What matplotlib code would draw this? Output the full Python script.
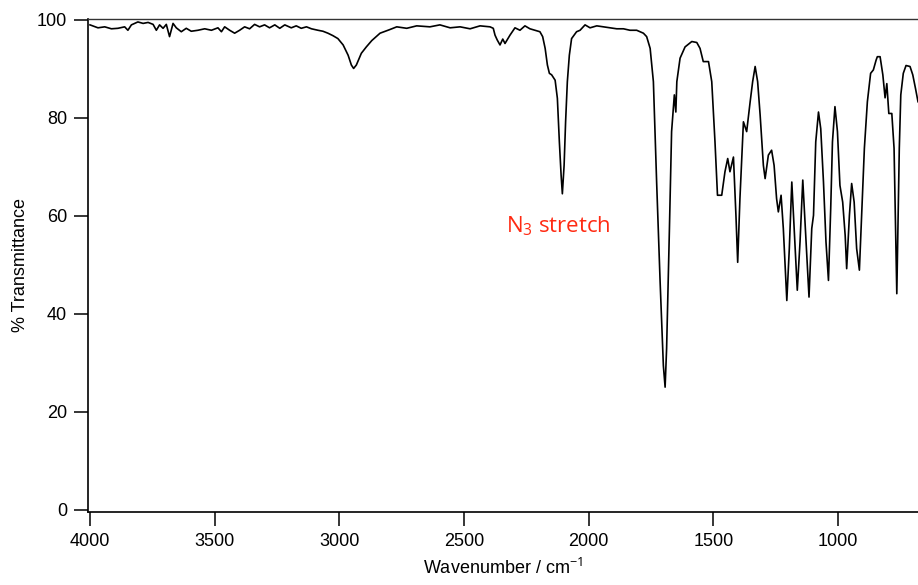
import matplotlib.pyplot as plt

# IR spectrum (wavenumber in cm-1, % transmittance)
wavenumber = [
    4000, 3968, 3941, 3914, 3888, 3861, 3848, 3834, 3808, 3787, 3767, 3747,
    3734, 3721, 3707, 3694, 3681, 3667, 3654, 3634, 3614, 3594, 3567, 3540,
    3513, 3487, 3473, 3460, 3440, 3420, 3400, 3380, 3360, 3340, 3320, 3300,
    3280, 3259, 3239, 3219, 3193, 3173, 3153, 3132, 3112, 3086, 3066, 3046,
    3026, 3006, 2985, 2965, 2952, 2943, 2932, 2912, 2892, 2870, 2837, 2800,
    2770, 2730, 2690, 2637, 2597, 2556, 2516, 2476, 2436, 2396, 2383, 2376,
    2367, 2356, 2345, 2336, 2316, 2296, 2276, 2256, 2236, 2216, 2196, 2185,
    2175, 2166, 2158, 2149, 2135, 2126, 2118, 2111, 2106, 2099, 2093, 2086,
    2078, 2069, 2059, 2049, 2035, 2015, 1995, 1968, 1942, 1915, 1888, 1861,
    1835, 1808, 1781, 1768, 1754, 1741, 1728, 1714, 1701, 1694, 1688, 1677,
    1668, 1657, 1651, 1647, 1634, 1614, 1587, 1567, 1554, 1541, 1520, 1507,
    1494, 1484, 1467, 1454, 1443, 1434, 1420, 1410, 1403, 1394, 1380, 1367,
    1353, 1343, 1333, 1323, 1313, 1300, 1293, 1280, 1267, 1257, 1247, 1240,
    1229, 1220, 1206, 1196, 1186, 1176, 1164, 1153, 1142, 1129, 1117, 1106,
    1099, 1090, 1079, 1070, 1059, 1049, 1039, 1030, 1023, 1013, 1003, 993,
    982, 972, 966, 955, 946, 936, 926, 915, 906, 895, 883, 870,
    859, 848, 843, 832, 821, 812, 805, 797, 785, 776, 765, 755,
    749, 739, 728, 712, 701, 690, 680,
]
transmittance = [
    99.0, 98.4, 98.6, 98.2, 98.3, 98.6, 97.9, 99.0, 99.6, 99.3, 99.5, 99.1,
    97.9, 99.0, 98.3, 99.1, 96.6, 99.3, 98.4, 97.6, 98.3, 97.7, 97.9, 98.2,
    97.9, 98.4, 97.6, 98.6, 97.9, 97.3, 97.9, 98.6, 98.2, 99.1, 98.6, 99.0,
    98.4, 99.0, 98.3, 99.0, 98.4, 98.8, 98.3, 98.6, 98.2, 97.9, 97.7, 97.3,
    96.8, 96.2, 94.9, 92.8, 90.8, 90.1, 90.8, 93.2, 94.5, 95.8, 97.3, 98.0,
    98.6, 98.3, 98.8, 98.6, 99.0, 98.4, 98.6, 98.2, 98.8, 98.6, 98.3, 96.9,
    95.9, 94.9, 96.1, 95.2, 96.9, 98.4, 97.9, 98.8, 98.2, 97.9, 97.6, 96.6,
    94.2, 90.8, 89.1, 88.8, 87.7, 84.0, 75.1, 68.3, 64.5, 70.3, 79.2, 87.4,
    92.8, 96.2, 96.9, 97.6, 97.9, 99.0, 98.4, 98.8, 98.6, 98.4, 98.2, 98.2,
    97.9, 97.9, 97.3, 96.6, 94.2, 87.4, 66.9, 46.5, 29.4, 25.0, 32.9, 56.7,
    77.2, 84.7, 81.2, 87.4, 92.2, 94.5, 95.6, 95.4, 94.2, 91.5, 91.5, 87.4,
    75.1, 64.2, 64.2, 69.0, 71.7, 69.0, 72.0, 60.1, 50.5, 63.5, 79.2, 77.2,
    83.3, 87.4, 90.5, 87.4, 80.6, 70.3, 67.6, 72.4, 73.4, 70.3, 63.5, 60.8,
    64.2, 57.4, 42.7, 53.3, 66.9, 56.7, 44.8, 54.7, 67.3, 54.7, 43.4, 57.4,
    60.1, 75.1, 81.2, 77.8, 66.9, 54.7, 46.8, 61.5, 75.1, 82.3, 77.2, 66.2,
    62.8, 56.0, 49.2, 60.1, 66.6, 62.8, 53.3, 48.9, 60.1, 73.8, 83.3, 89.1,
    89.8, 91.8, 92.5, 92.5, 88.8, 84.1, 87.0, 80.9, 80.9, 73.8, 44.1, 73.8,
    84.7, 89.1, 90.7, 90.5, 88.8, 86.0, 83.3,
]
x_ticks = [4000, 3500, 3000, 2500, 2000, 1500, 1000]
y_ticks = [0, 20, 40, 60, 80, 100]

plt.rcParams['font.family'] = ['Liberation Sans', 'DejaVu Sans']
plt.rcParams['mathtext.fontset'] = 'custom'
plt.rcParams['mathtext.rm'] = 'Open Sans'

fig = plt.figure(figsize=(9.18, 5.85), dpi=100)
ax = fig.add_axes([88 / 918, 1 - 512 / 585, 830 / 918, 493 / 585])

ax.plot(wavenumber, transmittance, color='black', lw=1.2)

ax.set_xlim(4008, 680)
ax.set_ylim(-0.5, 100.2)
ax.set_xticks(x_ticks)
ax.set_yticks(y_ticks)
ax.tick_params(direction='out', length=10, width=1.1, labelsize=13, pad=5)

ax.spines['right'].set_visible(False)
ax.spines['left'].set_linewidth(1.2)
ax.spines['bottom'].set_linewidth(1.2)
ax.spines['top'].set_linewidth(1.0)
ax.spines['top'].set_color('#333333')

ax.set_xlabel('Wavenumber / cm$^{-1}$', fontsize=13, labelpad=6)
ax.set_ylabel('% Transmittance', fontsize=13, labelpad=6)

ax.text(2330, 56.6, 'N$_3$ stretch', family='Open Sans', fontsize=16,
        color='#ff2a12')

fig.savefig('out.png', dpi=100)
